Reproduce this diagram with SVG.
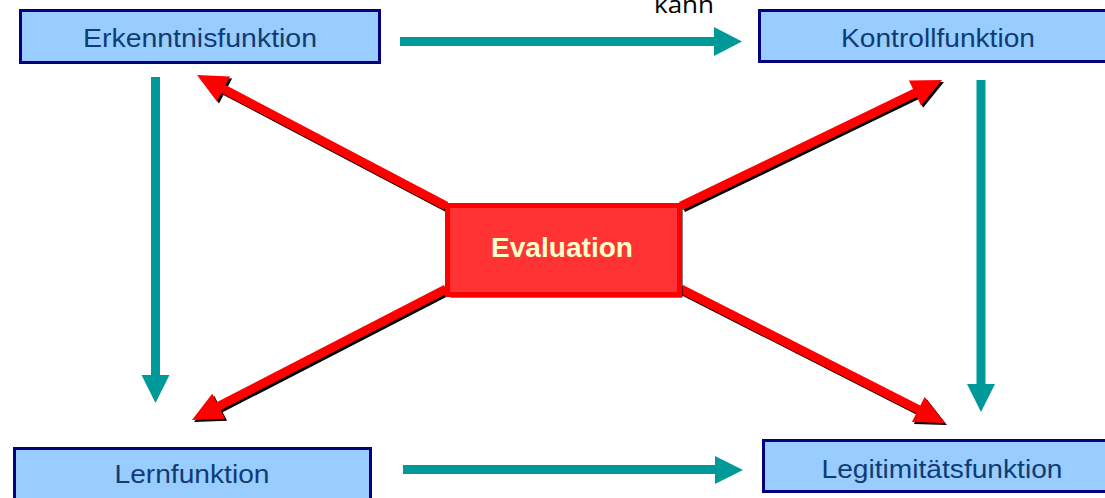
<svg xmlns="http://www.w3.org/2000/svg" width="1105" height="498" viewBox="0 0 1105 498">
<style>
.box{fill:#99CCFF;stroke:#000080;stroke-width:3}
.lbl{font-family:"Liberation Sans",Arial,sans-serif;font-size:25px;fill:#103C74;text-anchor:middle}
.teal{fill:#009999}
.red{fill:#FF0000}
.shadow{fill:#000000}
</style>
<g id="connectors">
  <g id="teal-arrows">
    <path class="teal" d="M400,37 H714 V27 L742,41.5 L714,56 V46 H400 Z"/>
    <path class="teal" d="M403,465 H715 V456 L743,470 L715,484 V474 H403 Z"/>
    <path class="teal" d="M151,77 V375 H141.5 L155.5,403 L169.5,375 H160 V77 Z"/>
    <path class="teal" d="M976.5,80 V384 H967 L981,412 L995,384 H985.5 V80 Z"/>
  </g>
  <g id="red-arrows">
    <g transform="translate(2,2)" class="shadow">
      <polygon points="448.1,202.0 225.6,85.0 230.1,76.6 197,75 217.0,101.4 221.5,93.0 443.9,210.0"/>
      <polygon points="683.0,210.1 916.9,97.1 921.1,105.7 942,80 908.9,80.4 913.0,89.0 679.0,202.0"/>
      <polygon points="448.1,293.0 220.7,410.3 225.1,418.7 192,420 212.2,393.8 216.6,402.3 443.9,285.0"/>
      <polygon points="679.0,293.0 916.2,413.4 911.9,421.9 945,423 924.6,396.9 920.3,405.4 683.0,285.0"/>
    </g>
    <g class="red">
      <polygon points="448.1,202.0 225.6,85.0 230.1,76.6 197,75 217.0,101.4 221.5,93.0 443.9,210.0"/>
      <polygon points="683.0,210.1 916.9,97.1 921.1,105.7 942,80 908.9,80.4 913.0,89.0 679.0,202.0"/>
      <polygon points="448.1,293.0 220.7,410.3 225.1,418.7 192,420 212.2,393.8 216.6,402.3 443.9,285.0"/>
      <polygon points="679.0,293.0 916.2,413.4 911.9,421.9 945,423 924.6,396.9 920.3,405.4 683.0,285.0"/>
    </g>
  </g>
  <text x="684" y="13" font-family="'Open Sans',sans-serif" font-size="24" fill="#000000" text-anchor="middle" textLength="60" lengthAdjust="spacingAndGlyphs">kann</text>
</g>
<g id="erkenntnisfunktion">
  <rect class="box" x="20.5" y="10.5" width="359" height="52"/>
  <text class="lbl" x="200" y="47" textLength="234" lengthAdjust="spacingAndGlyphs">Erkenntnisfunktion</text>
</g>
<g id="kontrollfunktion">
  <rect class="box" x="759.5" y="10.5" width="360" height="51"/>
  <text class="lbl" x="938" y="47" textLength="194" lengthAdjust="spacingAndGlyphs">Kontrollfunktion</text>
</g>
<g id="lernfunktion">
  <rect class="box" x="14.5" y="448.5" width="356" height="56"/>
  <text class="lbl" x="192" y="483" textLength="155" lengthAdjust="spacingAndGlyphs">Lernfunktion</text>
</g>
<g id="legitimitaetsfunktion">
  <rect class="box" x="763.5" y="440.5" width="360" height="51"/>
  <text class="lbl" x="942" y="478" textLength="241" lengthAdjust="spacingAndGlyphs">Legitimitätsfunktion</text>
</g>
<g id="evaluation">
  <rect x="450.5" y="208.5" width="232" height="89" fill="#000000"/>
  <rect x="447.5" y="205.5" width="232" height="89" fill="#FF3333" stroke="#FF0000" stroke-width="5"/>
  <text x="562" y="257" font-family="'Liberation Sans',Arial,sans-serif" font-size="27" font-weight="bold" fill="#FFFFCC" text-anchor="middle" textLength="142" lengthAdjust="spacingAndGlyphs">Evaluation</text>
</g>
</svg>
